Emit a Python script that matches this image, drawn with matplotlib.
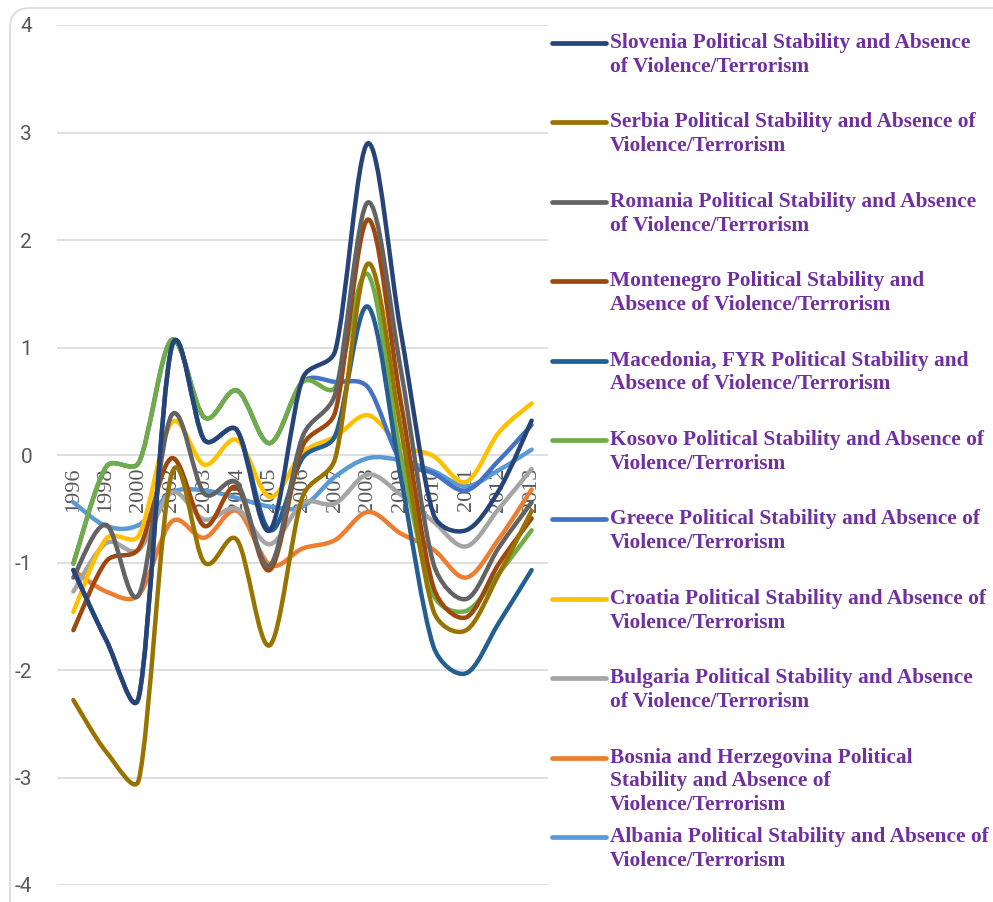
import matplotlib
matplotlib.use("Agg")
import matplotlib.pyplot as plt
from matplotlib.path import Path
from matplotlib.patches import PathPatch, FancyBboxPatch
from matplotlib.lines import Line2D
from matplotlib.transforms import IdentityTransform

plt.rcParams['axes.unicode_minus'] = False

# %% data
years = ['1996', '1998', '2000', '2002', '2003', '2004', '2005', '2006',
         '2007', '2008', '2009', '2010', '2011', '2012', '2013']

albania = [-0.44, -0.66, -0.65, -0.35, -0.33, -0.40, -0.48, -0.48, -0.20, -0.03, -0.05, -0.15, -0.29, -0.14, 0.05]
bosnia = [-1.07, -1.27, -1.30, -0.62, -0.77, -0.52, -1.02, -0.87, -0.79, -0.53, -0.73, -0.88, -1.14, -0.78, -0.32]
bulgaria = [-1.27, -0.82, -0.88, -0.35, -0.60, -0.50, -0.83, -0.45, -0.45, -0.18, -0.37, -0.62, -0.85, -0.50, -0.13]
croatia = [-1.46, -0.78, -0.75, 0.30, -0.09, 0.14, -0.39, 0.02, 0.17, 0.37, 0.09, -0.01, -0.25, 0.21, 0.48]
greece = [-1.01, -0.11, -0.07, 1.07, 0.35, 0.60, 0.11, 0.68, 0.68, 0.63, -0.05, -0.17, -0.33, -0.05, 0.28]
kosovo = [-1.01, -0.11, -0.07, 1.07, 0.35, 0.60, 0.11, 0.68, 0.63, 1.68, 0.00, -1.30, -1.45, -1.10, -0.70]
macedonia = [-1.07, -1.72, -2.25, 1.00, 0.14, 0.23, -0.70, -0.03, 0.18, 1.38, -0.20, -1.78, -2.03, -1.56, -1.07]
montenegro = [-1.63, -0.99, -0.87, -0.03, -0.66, -0.30, -1.07, 0.08, 0.40, 2.19, 0.50, -1.23, -1.51, -1.01, -0.59]
romania = [-1.14, -0.65, -1.30, 0.37, -0.36, -0.26, -1.03, 0.17, 0.57, 2.35, 0.80, -1.01, -1.34, -0.86, -0.44]
serbia = [-2.28, -2.76, -3.02, -0.18, -1.00, -0.79, -1.77, -0.39, -0.03, 1.78, 0.25, -1.45, -1.63, -1.11, -0.52]
slovenia = [-1.07, -1.72, -2.25, 1.00, 0.14, 0.23, -0.70, 0.71, 0.97, 2.90, 1.15, -0.55, -0.70, -0.33, 0.32]

# drawing order (first drawn at the bottom)
series = [albania, bosnia, bulgaria, croatia, greece, kosovo,
          macedonia, montenegro, romania, serbia, slovenia]
colors = ['#5B9BD5', '#ED7D31', '#A5A5A5', '#FFC000', '#4472C4', '#70AD47',
          '#255E91', '#9E480E', '#636363', '#997300', '#264478']
labels = [
    "Albania Political Stability and Absence of\nViolence/Terrorism",
    "Bosnia and Herzegovina Political\nStability and Absence of\nViolence/Terrorism",
    "Bulgaria Political Stability and Absence\nof Violence/Terrorism",
    "Croatia Political Stability and Absence of\nViolence/Terrorism",
    "Greece Political Stability and Absence of\nViolence/Terrorism",
    "Kosovo Political Stability and Absence of\nViolence/Terrorism",
    "Macedonia, FYR Political Stability and\nAbsence of Violence/Terrorism",
    "Montenegro Political Stability and\nAbsence of Violence/Terrorism",
    "Romania Political Stability and Absence\nof Violence/Terrorism",
    "Serbia Political Stability and Absence of\nViolence/Terrorism",
    "Slovenia Political Stability and Absence\nof Violence/Terrorism",
]

W, H = 993, 902
XPX, YPX = 33.07, 107.5   # pixels per category / per unit, for the smoothing


def smooth_path(xs, ys):
    # excel-like smoothed line: cubic bezier through every point,
    # tangents shortened when a neighbouring segment is short
    n = len(xs)
    px = [v * XPX for v in xs]
    py = [v * YPX for v in ys]

    def seg(i, j):
        return ((px[j] - px[i]) ** 2 + (py[j] - py[i]) ** 2) ** 0.5

    verts = [(xs[0], ys[0])]
    codes = [Path.MOVETO]
    for i in range(n - 1):
        a = i - 1 if i > 0 else i
        d = i + 2 if i + 2 < n else i + 1
        L = seg(i, i + 1)
        t1 = ((px[i + 1] - px[a]) / 6, (py[i + 1] - py[a]) / 6)
        t2 = ((px[d] - px[i]) / 6, (py[d] - py[i]) / 6)
        out = []
        for tx, ty in (t1, t2):
            m = (tx ** 2 + ty ** 2) ** 0.5
            s = min(1.0, 0.4 * L / m) if m > 0 else 1.0
            out.append((tx * s, ty * s))
        c1 = ((px[i] + out[0][0]) / XPX, (py[i] + out[0][1]) / YPX)
        c2 = ((px[i + 1] - out[1][0]) / XPX, (py[i + 1] - out[1][1]) / YPX)
        verts += [c1, c2, (xs[i + 1], ys[i + 1])]
        codes += [Path.CURVE4] * 3
    return Path(verts, codes)


fig = plt.figure(figsize=(W / 100, H / 100), dpi=100)

# chart border
border = FancyBboxPatch((10, -60), 1200, H - 8 + 60,
                        boxstyle="round,pad=0,rounding_size=20",
                        transform=IdentityTransform(), facecolor='white',
                        edgecolor='#D9D9D9', lw=1.2, zorder=0)
fig.add_artist(border)

ax = fig.add_axes([57 / W, 1 - 885 / H, (548 - 57) / W, (885 - 25) / H])
ax.set_facecolor('none')
ax.set_axisbelow(True)

x = list(range(len(years)))
for vals, c in zip(series, colors):
    ax.add_patch(PathPatch(smooth_path(x, vals), fill=False, edgecolor=c,
                           lw=3.2, capstyle='round', joinstyle='round', zorder=3))

ax.set_xlim(-0.5, len(years) - 0.5)
ax.set_ylim(-4, 4)
ax.set_yticks(range(-4, 5))
ax.grid(axis='y', color='#D9D9D9', lw=1.2)
for s in ['top', 'right', 'left']:
    ax.spines[s].set_visible(False)
ax.spines['bottom'].set_position(('data', 0))
ax.spines['bottom'].set_visible(False)
ax.set_xticks(x)
ax.set_xticklabels(years, rotation=90, fontsize=16, color='#595959',
                   family='Liberation Serif')
ax.tick_params(axis='x', length=0, pad=9)
ax.tick_params(axis='y', length=0, pad=18, labelsize=15, labelcolor='#595959')
for t in ax.get_yticklabels():
    t.set_family('Roboto')

# legend, top entry = last drawn series
for k, (lab, c) in enumerate(zip(labels[::-1], colors[::-1])):
    yc = 1 - (43 + 79.4 * k) / H
    fig.add_artist(Line2D([552 / W, 606 / W], [yc, yc], color=c, lw=3.4,
                          solid_capstyle='round', transform=fig.transFigure))
    fig.text(610 / W, yc + 10 / H, lab, ha='left', va='top', fontsize=15.4,
             fontweight='bold', color='#7030A0', family='Liberation Serif',
             linespacing=1.25)

fig.savefig('out.png', dpi=100)
